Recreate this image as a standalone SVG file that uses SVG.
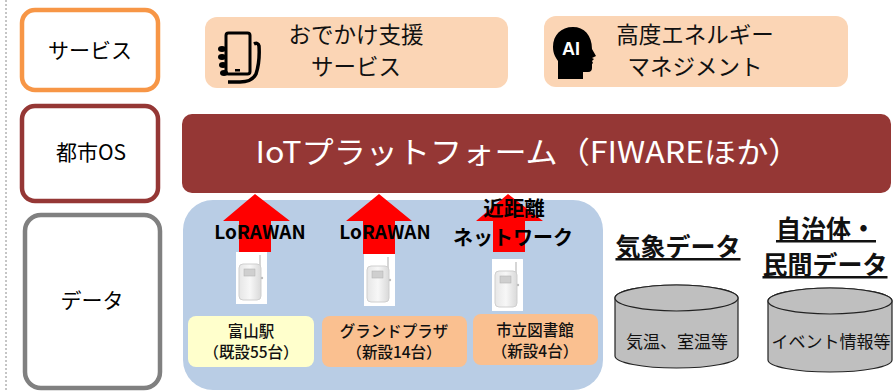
<svg xmlns="http://www.w3.org/2000/svg" width="893" height="391" viewBox="0 0 893 391">
  <defs>
    <style>
      .jp { font-family: "Noto Sans CJK JP", "Noto Sans", sans-serif; }
      .layer { fill: #ffffff; stroke-width: 4.5; }
      .lbl { font-size: 21px; fill: #000; text-anchor: middle; }
      .svc { fill: #FBD5B5; }
      .svctxt { font-size: 22.5px; fill: #111; text-anchor: middle; }
      .arrow { fill: #FF0000; }
      .net { font-family: "Noto Sans CJK JP", "Noto Sans", sans-serif; font-weight: bold; fill: #000; text-anchor: middle; }
      .site { stroke: none; }
      .sitetxt { font-size: 15.5px; fill: #111; text-anchor: middle; font-weight: 500; }
      .src { font-size: 25px; font-weight: bold; fill: #111; text-anchor: middle; text-decoration: underline; }
      .cyl { fill: #BFBFBF; stroke: #222; stroke-width: 1.2; }
      .cyltxt { font-size: 17px; fill: #111; text-anchor: middle; }
    </style>
    <linearGradient id="devBody" x1="0" y1="0" x2="1" y2="0">
      <stop offset="0" stop-color="#e6e6e6"/>
      <stop offset="0.5" stop-color="#f7f7f7"/>
      <stop offset="1" stop-color="#d9d9d9"/>
    </linearGradient>
    <g id="device">
      <!-- small handheld sensor unit on a white tile -->
      <rect x="0" y="0" width="31" height="52" fill="#ffffff"/>
      <line x1="24" y1="3" x2="24" y2="20" stroke="#c8c8c8" stroke-width="1.5"/>
      <rect x="3" y="12" width="22" height="36" rx="4" fill="url(#devBody)" stroke="#cfcfcf" stroke-width="1"/>
      <rect x="8" y="17" width="11" height="7" fill="#cfcfcf" stroke="#b5b5b5" stroke-width="0.6"/>
      <circle cx="26" cy="26" r="1.2" fill="#bdbdbd"/>
    </g>
  </defs>

  <rect width="893" height="391" fill="#ffffff"/>

  <!-- left guide line -->
  <line x1="6" y1="0" x2="6" y2="391" stroke="#8c8c8c" stroke-width="1" stroke-dasharray="2,2"/>

  <!-- layer headers -->
  <g id="layer-service">
    <rect class="layer" x="22" y="10" width="136" height="80" rx="13" stroke="#F79646"/>
    <text class="jp lbl" x="90" y="58">サービス</text>
  </g>
  <g id="layer-cityos">
    <rect class="layer" x="22" y="106" width="136" height="95" rx="13" stroke="#953735"/>
    <text class="jp lbl" x="91" y="160">都市OS</text>
  </g>
  <g id="layer-data">
    <rect class="layer" x="25" y="215" width="135" height="173" rx="16" stroke="#808080"/>
    <text class="jp lbl" x="92" y="308">データ</text>
  </g>

  <!-- services -->
  <g id="svc-outing">
    <rect class="svc" x="205" y="17" width="303" height="71" rx="12"/>
    <g id="icon-phone" fill="none" stroke="#000">
      <rect x="226" y="33" width="24" height="41" rx="2.5" stroke-width="3"/>
      <rect x="235" y="69" width="5" height="2.5" fill="#000" stroke="none"/>
      <path d="M254 44 q4 -2 5 2 q1 16 -3 28 q-4 8 -16 8 l-12 0" stroke-width="3.5"/>
      <g fill="#000" stroke="none">
        <ellipse cx="222" cy="49" rx="4" ry="3"/>
        <ellipse cx="222" cy="57" rx="4" ry="3"/>
        <ellipse cx="223" cy="65" rx="4" ry="3"/>
        <ellipse cx="224" cy="73" rx="4" ry="3"/>
      </g>
    </g>
    <text class="jp svctxt" x="356" y="43">おでかけ支援</text>
    <text class="jp svctxt" x="356" y="75">サービス</text>
  </g>
  <g id="svc-energy">
    <rect class="svc" x="544" y="16" width="304" height="71" rx="12"/>
    <g id="icon-ai">
      <path d="M573 27 c-12 0 -20 8 -20 20 c0 7 3 11 5 14 l0 18 l25 0 l0 -7 l5 0 c3 0 4 -2 4 -4 l0 -4 l1 -1 l-1 -2 l2 -2 l-2 -1 l4 -2 l-4 -7 c0 -14 -8 -22 -19 -22 z" fill="#000"/>
      <text x="571" y="55" font-family="Liberation Sans, Arial, sans-serif" font-weight="bold" font-size="18" fill="#fff" text-anchor="middle">AI</text>
    </g>
    <text class="jp svctxt" x="695" y="43">高度エネルギー</text>
    <text class="jp svctxt" x="695" y="75">マネジメント</text>
  </g>

  <!-- platform -->
  <g id="platform">
    <rect x="182" y="114" width="709" height="79" rx="10" fill="#953735"/>
    <text class="jp" x="528" y="163" font-size="30" fill="#ffffff" text-anchor="middle" textLength="545" lengthAdjust="spacingAndGlyphs">IoTプラットフォーム（FIWAREほか）</text>
  </g>

  <!-- data area -->
  <g id="data-area">
    <rect x="183" y="200" width="420" height="190" rx="30" fill="#B9CDE5"/>
  </g>

  <!-- uplinks to the platform -->
  <g id="connectors">
    <path class="arrow" d="M255 194 L290 221 L271 221 L271 252 L239 252 L239 221 L223 221 Z"/>
    <path class="arrow" d="M379 194 L412 221 L395 221 L395 254 L363 254 L363 221 L346 221 Z"/>
    <path class="arrow" d="M508 194 L543 221 L525 221 L525 252 L493 252 L493 221 L476 221 Z"/>
  </g>

  <g id="net-labels">
    <text class="net" x="260" y="239" font-size="19">LoRAWAN</text>
    <text class="net" x="385" y="239" font-size="19">LoRAWAN</text>
    <text class="net" x="514" y="216" font-size="20.5">近距離</text>
    <text class="net" x="513" y="245" font-size="20">ネットワーク</text>
  </g>

  <g id="devices">
    <use href="#device" x="236" y="252"/>
    <use href="#device" x="364" y="254"/>
    <use href="#device" x="492" y="259"/>
  </g>

  <g id="site-toyama">
    <rect class="site" x="188" y="316" width="126" height="51" rx="8" fill="#FFFFCC"/>
    <text class="jp sitetxt" x="251" y="337">富山駅</text>
    <text class="jp sitetxt" x="251" y="358">（既設55台）</text>
  </g>
  <g id="site-grandplaza">
    <rect class="site" x="322" y="316" width="145" height="51" rx="8" fill="#FAC090"/>
    <text class="jp sitetxt" x="394" y="337">グランドプラザ</text>
    <text class="jp sitetxt" x="394" y="358">（新設14台）</text>
  </g>
  <g id="site-library">
    <rect class="site" x="473" y="314" width="125" height="51" rx="8" fill="#FAC090"/>
    <text class="jp sitetxt" x="535" y="336">市立図書館</text>
    <text class="jp sitetxt" x="535" y="357">（新設4台）</text>
  </g>

  <!-- external data sources -->
  <g id="src-weather">
    <text class="jp src" x="678" y="256">気象データ</text>
    <path class="cyl" d="M615 298 L615 356 A61.5 12 0 0 0 738 356 L738 298 A61.5 13 0 0 0 615 298 Z"/>
    <ellipse class="cyl" cx="676.5" cy="298" rx="61.5" ry="13"/>
    <text class="jp cyltxt" x="677" y="348">気温、室温等</text>
  </g>
  <g id="src-municipal">
    <text class="jp src" x="826" y="238">自治体・</text>
    <text class="jp src" x="825" y="274">民間データ</text>
    <path class="cyl" d="M768 301 L768 360 A62 12 0 0 0 892 360 L892 301 A62 13 0 0 0 768 301 Z"/>
    <ellipse class="cyl" cx="830" cy="301" rx="62" ry="13"/>
    <text class="jp cyltxt" x="831" y="348">イベント情報等</text>
  </g>
</svg>
